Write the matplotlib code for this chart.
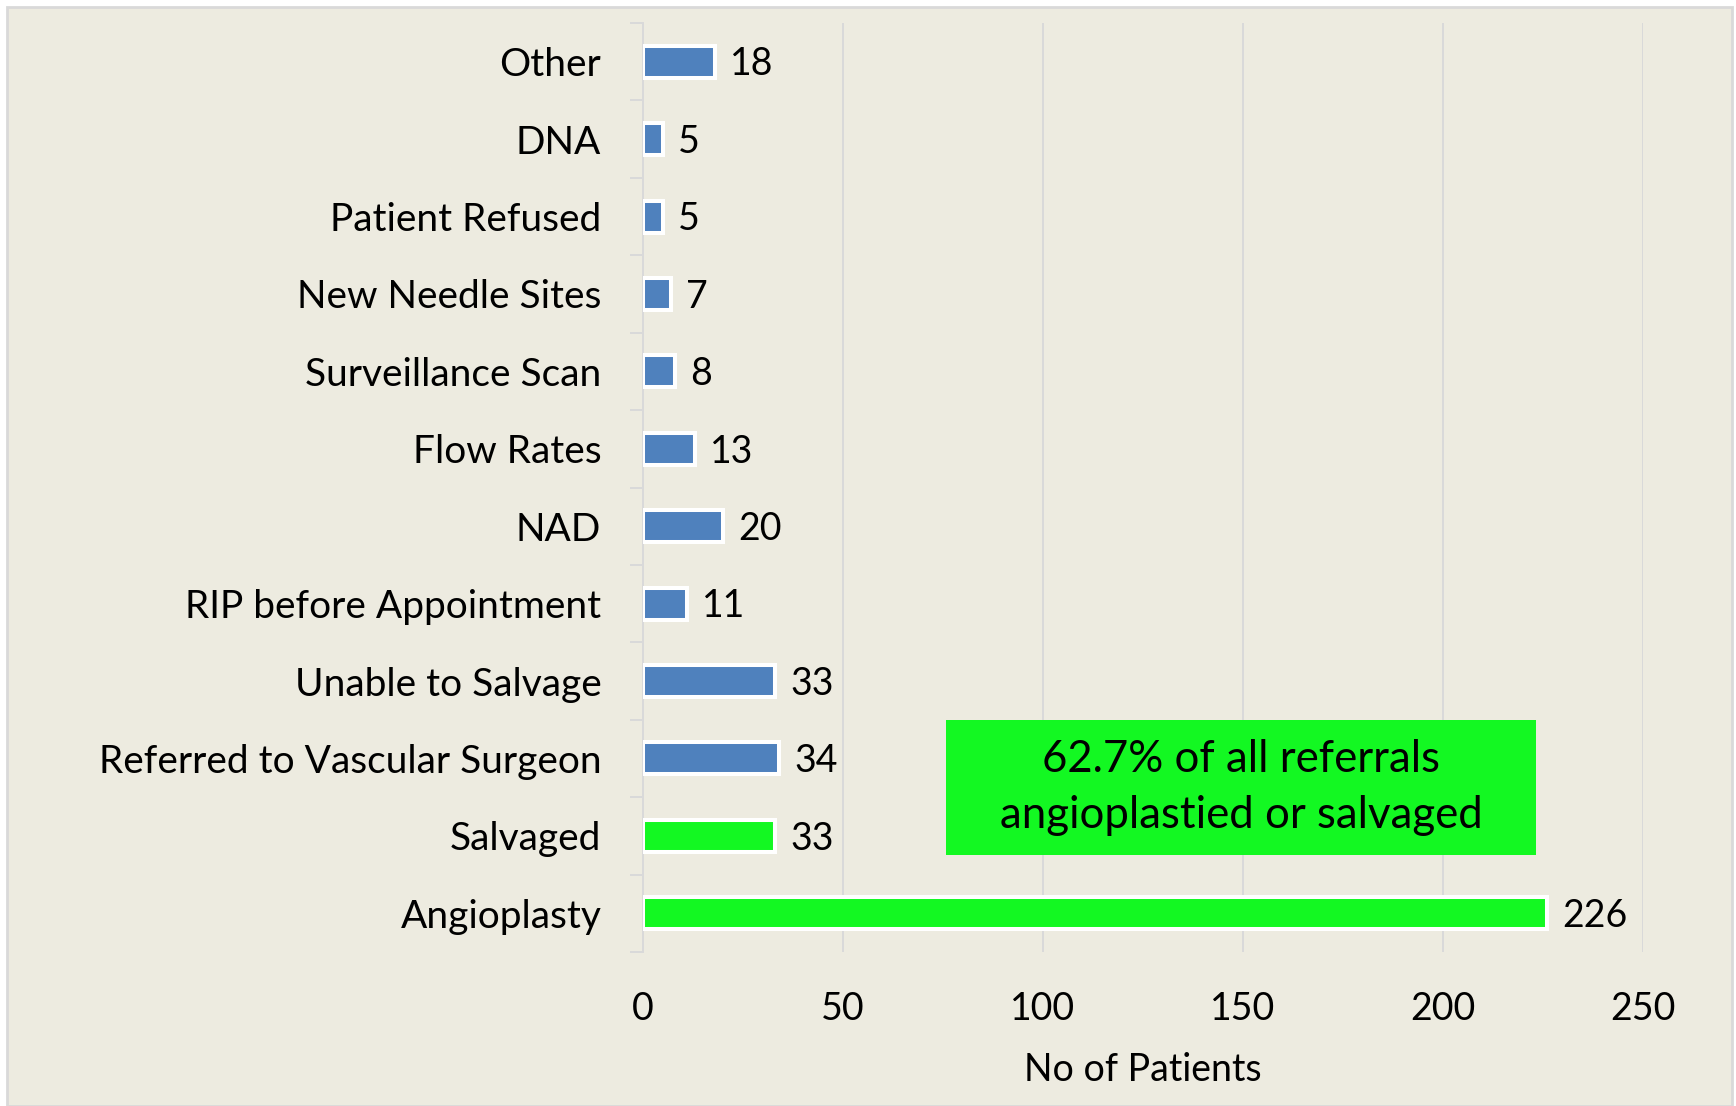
import matplotlib
matplotlib.use("Agg")
import matplotlib.pyplot as plt
from matplotlib.patches import Rectangle
import numpy as np

categories = ["Angioplasty", "Salvaged", "Referred to Vascular Surgeon",
              "Unable to Salvage", "RIP before Appointment", "NAD", "Flow Rates",
              "Surveillance Scan", "New Needle Sites", "Patient Refused", "DNA", "Other"]
values = [226, 33, 34, 33, 11, 20, 13, 8, 7, 5, 5, 18]
highlight = [True, True, False, False, False, False, False, False, False, False, False, False]
x_ticks = [0, 50, 100, 150, 200, 250]
x_label = "No of Patients"
note_text = "62.7% of all referrals\nangioplastied or salvaged"

BG = "#EDEBE0"
BLUE = "#4F81BD"
GREEN = "#13F822"
GRID = "#D9D9D9"
FONT = ["Lato", "DejaVu Sans"]

plt.rcParams["font.family"] = FONT

fig = plt.figure(figsize=(17.36, 11.06), dpi=100)
fig.patch.set_facecolor("white")
W, H = 1736, 1106
# chart area background with light border
fig.patches.append(Rectangle((7 / W, 0), (1732 - 7) / W, (H - 7) / H,
                             transform=fig.transFigure, facecolor=BG,
                             edgecolor=GRID, linewidth=2, zorder=-10))

ax = fig.add_axes([643 / W, 1 - 952 / H, (1643 - 643) / W, (952 - 23) / H])
ax.set_facecolor("none")

y = np.arange(len(categories))
colors = [GREEN if h else BLUE for h in highlight]
bars = ax.barh(y, values, height=0.413, color=colors, edgecolor="white",
               linewidth=2.9, zorder=3)

for yi, v in zip(y, values):
    ax.annotate(str(v), (v, yi), xytext=(11, -2), textcoords="offset points",
                ha="left", va="center", fontsize=27, color="black")

ax.set_xlim(0, 250)
ax.set_ylim(-0.5, len(categories) - 0.5)
ax.set_xticks(x_ticks)
ax.set_xticklabels([str(t) for t in x_ticks], fontsize=27)
ax.set_yticks(y)
ax.set_yticklabels(categories, fontsize=28)
ax.set_yticks(np.arange(-0.5, len(categories), 1), minor=True)

ax.tick_params(axis="y", which="major", length=0, pad=30)
ax.tick_params(axis="y", which="minor", length=9.5, width=1.4, color=GRID, direction="out")
ax.tick_params(axis="x", length=0, pad=28)

ax.grid(axis="x", color=GRID, linewidth=1.4, zorder=0)
ax.set_axisbelow(True)
for s in ["top", "right", "bottom"]:
    ax.spines[s].set_visible(False)
ax.spines["left"].set_color(GRID)
ax.spines["left"].set_linewidth(1.4)
ax.spines["left"].set_zorder(1)

ax.set_xlabel(x_label, fontsize=27, labelpad=18)

# annotation box
bx0, bx1 = (946 - 643) / 1000, (1536 - 643) / 1000
by0, by1 = (952 - 855) / 929, (952 - 720) / 929
ax.add_patch(Rectangle((bx0, by0), bx1 - bx0, by1 - by0, transform=ax.transAxes,
                       facecolor=GREEN, edgecolor="none", zorder=4))
ax.text((bx0 + bx1) / 2, (by0 + by1) / 2, note_text, transform=ax.transAxes,
        ha="center", va="center", fontsize=31.5, linespacing=1.45, zorder=5)

fig.savefig("out.png", dpi=100, facecolor=fig.get_facecolor())
